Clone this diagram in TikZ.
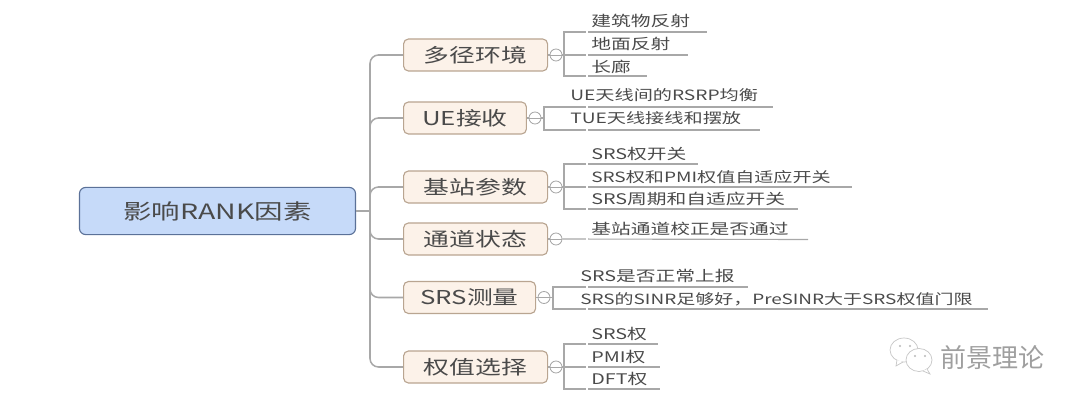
\documentclass[tikz,border=0pt]{standalone}
\usepackage{fontspec}
\setmainfont{Noto Sans CJK SC}[FakeStretch=1.35]
\newfontfamily\markfont{Noto Sans CJK SC}
\usetikzlibrary{positioning}
\definecolor{rootfill}{HTML}{C6DAF9}
\definecolor{rootedge}{HTML}{5B7198}
\definecolor{boxfill}{HTML}{FCF2E9}
\definecolor{boxedge}{HTML}{B9A591}
\definecolor{wire}{HTML}{A8A8A8}
\definecolor{ink}{HTML}{4A4A4A}
\tikzset{
  rootbox/.style={draw=rootedge,fill=rootfill,line width=0.8pt,rounded corners=4.5pt,
    minimum width=6.9cm,minimum height=1.18cm,text=ink,font=\fontsize{15}{17}\selectfont},
  branchbox/.style={draw=boxedge,fill=boxfill,line width=0.8pt,rounded corners=3.5pt,
    minimum height=0.8cm,anchor=west,text=ink,font=\fontsize{13.6}{16}\selectfont},
  fold/.style={circle,draw=wire,line width=0.6pt,minimum size=0.3cm,inner sep=0pt},
  leaf/.style={anchor=west,inner sep=0pt,text=ink,font=\fontsize{10.4}{12}\selectfont},
  wireline/.style={draw=wire,line width=0.8pt},
  trunkline/.style={draw=wire,line width=1.1pt,rounded corners=6pt}
}
\begin{document}
\begin{tikzpicture}[x=0.025cm,y=-0.025cm]
  \useasboundingbox (0,0) rectangle (1080,405);

  % Root and trunk
  \node[rootbox] (root) at (217.5,211) {影响RANK因素};
  \coordinate (trunk) at (370,211);

  % Branches
  \foreach \name/\x/\y/\bw/\txt in {%
      multi/403/55/3.6/多径环境,
      ue/403/118/3.07/UE接收,
      bs/403/187/3.6/基站参数,
      chan/403/239/3.6/通道状态,
      srs/403/297.5/3.3/SRS测量,
      weight/403/367/3.6/权值选择} {
    \node[branchbox,minimum width=\bw cm] (\name) at (\x,\y) {\txt};
  }

  % Trunk connectors
  \draw[wireline] (root.east) -- (trunk);
  \foreach \name in {multi,ue,bs,chan,srs,weight} {
    \draw[trunkline] (trunk) |- (\name.west);
  }

  % Fold marks
  \foreach \name/\x/\y in {multi/556/55,ue/535/118,bs/556/187,chan/556/239,srs/544/297.5,weight/556/367} {
    \node[fold] (\name fold) at (\x,\y) {};
    \draw[wireline] (\name.east) -- (\name fold);
    \draw[draw=wire,line width=0.6pt] (\name fold.west) -- (\name fold.east);
  }
  \coordinate (multijoin) at (564,55);
  \coordinate (uejoin) at (544,118);
  \coordinate (bsjoin) at (564,187);
  \coordinate (srsjoin) at (553,297.5);
  \coordinate (weightjoin) at (564,367);

  % Leaves: group/name/text x/text y/line y/line end/text
  \foreach \grp/\name/\x/\y/\ly/\e/\txt in {%
      multi/a/591/21/32/707/建筑物反射,
      multi/b/591/44/55/688/地面反射,
      multi/c/591/67/76/647/长廊,
      ue/a/570/95/107/773/{\fontsize{10.1}{12}\selectfont UE天线间的RSRP均衡},
      ue/b/570/118/130/760/{\fontsize{10.1}{12}\selectfont TUE天线接线和摆放},
      bs/a/591/154/164/698/SRS权开关,
      bs/b/591/177/187/852/{\fontsize{10.05}{12}\selectfont SRS权和PMI权值自适应开关},
      bs/c/591/199/209/798/SRS周期和自适应开关,
      srs/a/580/276/287/748/SRS是否正常上报,
      srs/b/580/299/309/988/{\fontsize{10}{12}\selectfont SRS的SINR足够好，PreSINR大于SRS权值门限},
      weight/a/591/334/344/658/SRS权,
      weight/b/591/357/367/660/PMI权,
      weight/c/591/379/389/660/DFT权} {
    \node[leaf] (\grp\name) at (\x,\y) {\txt};
    \coordinate (\grp\name end) at (\e,\ly);
    \draw[wireline] (\grp join) |- (\grp\name end);
    % break in the line ahead of the text
    \draw[white,line width=1.5pt] (587,\ly-2) -- (587,\ly+2);
  }
  \foreach \grp in {multi,ue,bs,srs,weight} {
    \draw[wireline] (\grp fold) -- (\grp join);
  }

  % Single leaf
  \node[leaf] (chana) at (591,229) {基站通道校正是否通过};
  \coordinate (chanaend) at (808,239.5);
  \draw[wireline] (chanfold) -- (chanaend);
  \draw[white,line width=1.5pt] (587,237.5) -- (587,241.5);

  % Watermark
  \draw[gray!45,line width=0.5pt,fill=white] (904,350) ellipse (14 and 12);
  \draw[gray!45,line width=0.5pt,fill=white] (919,360) ellipse (13 and 11.5);
  \draw[gray!45,line width=0.5pt,fill=white] (897,360) -- (896,366) -- (903,362);
  \draw[gray!45,line width=0.5pt,fill=white] (927,369) -- (930,374) -- (923,371);
  \foreach \px/\py in {900/346,910/346,915/356,925/356} {
    \fill[gray!55] (\px,\py) circle (1.2);
  }
  \node[inner sep=0pt,anchor=west,text=gray!75,font=\markfont\fontsize{18.5}{20}\selectfont] (mark) at (940,358) {前景理论};
\end{tikzpicture}
\end{document}
